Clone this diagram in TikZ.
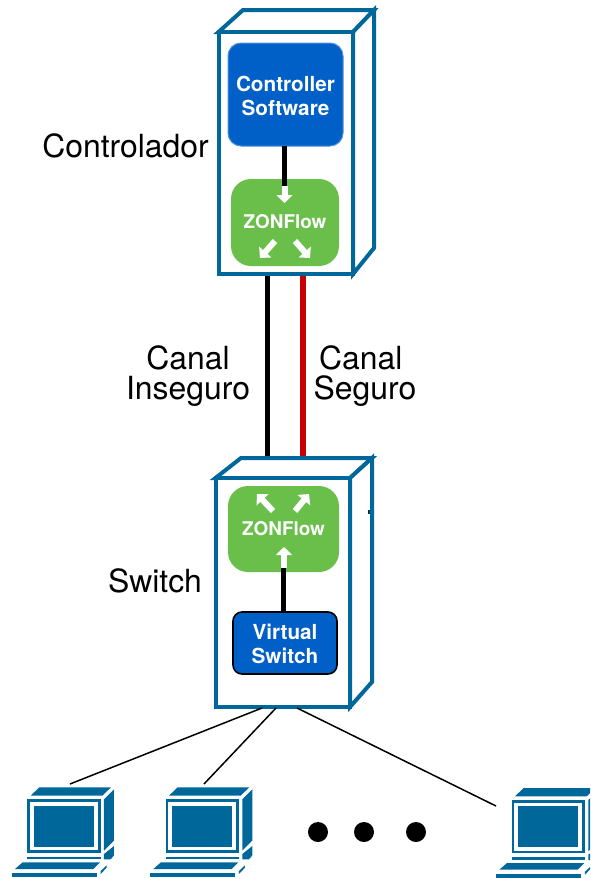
\documentclass[tikz,border=0pt]{standalone}
\usepackage{fontspec}
\setmainfont{TeX Gyre Heros}
\usetikzlibrary{arrows.meta,calc}
\definecolor{netblue}{HTML}{00679A}
\definecolor{swblue}{HTML}{0060C8}
\definecolor{zongreen}{HTML}{6ABF4B}
\definecolor{chanred}{HTML}{C40000}
\tikzset{
  x=1pt,y=-1pt,
  label text/.style={font=\fontsize{31.9}{30}\selectfont,inner sep=0pt,text=black},
  case/.style={draw=netblue,line width=4pt,line join=miter,fill=white},
  casefront/.style={draw=netblue,line width=4pt,fill=white,inner sep=0pt,outer sep=0pt,anchor=north west},
  softbox/.style={anchor=north west,inner sep=0pt,outer sep=0pt,rounded corners=13pt,text=white,align=center,font=\fontsize{20.7}{24}\selectfont\bfseries},
  zonbox/.style={anchor=north west,inner sep=0pt,outer sep=0pt,rounded corners=20pt,fill=zongreen,text=white,font=\fontsize{18.9}{22}\selectfont\bfseries},
  link/.style={line width=5pt,draw=black},
  flow/.style={draw=white,line width=6pt,-{Triangle[width=16pt,length=8pt]}},
  thin link/.style={draw=black,line width=1.5pt},
  dot/.style={circle,fill=black,minimum size=20pt,inner sep=0pt},
  computer/.pic={
    \begin{scope}[fill=netblue,draw=none]
      \fill (62,77) -- (88,52) -- (303,52) -- (277,77) -- cycle;
      \fill (52,88) rectangle (272,248);
      \fill[white] (60,96) rectangle (264,240);
      \fill (72,107) rectangle (252,230);
      \fill (282,88) -- (312,58) -- (312,212) -- (282,242) -- cycle;
      \fill (52,260) rectangle (272,268);
      \fill (282,252) -- (312,228) -- (312,256) -- (302,268) -- (282,268) -- cycle;
      \fill (15,297) -- (38,277) -- (270,277) -- (250,297) -- cycle;
      \fill (5,309) rectangle (260,322);
      \fill (272,303) -- (290,286) -- (290,293) -- (272,312) -- cycle;
    \end{scope}
  }
}
\begin{document}
\begin{tikzpicture}
\useasboundingbox (0,0) rectangle (590,879);
\clip (0,0) rectangle (590,879);

% connectors behind the cases
\coordinate (insecTop) at (267,274);
\coordinate (insecBot) at (267,458);
\coordinate (secTop) at (303,274);
\coordinate (secBot) at (303,458);
\draw[link] (insecTop) -- (insecBot);
\draw[draw=chanred,line width=5.4pt] (secTop) -- (secBot);

% controller case
\draw[case] (218.5,32) -- (243,10) -- (374,10) -- (353,32) -- cycle;
\draw[case] (353,32) -- (374,10) -- (374,248) -- (353,274) -- cycle;
\node[casefront,minimum width=134.5pt,minimum height=242pt] (ctrl) at (218.5,32) {};
\node[softbox,fill=swblue,draw=swblue!70!white,line width=1pt,minimum width=115pt,minimum height=103pt] (soft) at (228,43) {\rule{0pt}{18.5pt}Controller\\[0pt]Software};
\node[zonbox,minimum width=108pt,minimum height=87pt] (zon1) at (231,179) {\raisebox{2pt}{ZONFlow}};
\coordinate (zon1in) at (284.5,186);
\draw[link] (soft.south -| zon1in) -- (zon1in);
\coordinate (zon1tip) at (284.5,203);
\draw[flow] (zon1in) -- (zon1tip);
\coordinate (a1s) at (275,241); \coordinate (a1e) at (260,258);
\coordinate (a2s) at (295,241); \coordinate (a2e) at (310,258);
\draw[flow] (a1s) -- (a1e);
\draw[flow] (a2s) -- (a2e);

% switch case
\draw[case] (215.5,478) -- (241,458) -- (372,458) -- (350,478) -- cycle;
\draw[case] (350,478) -- (372,458) -- (372,682) -- (350,707) -- cycle;
\node[casefront,minimum width=134.5pt,minimum height=229pt] (sw) at (215.5,478) {};
\fill[netblue!60!black] (368,510) rectangle (370,514);
\node[zonbox,minimum width=111pt,minimum height=86pt] (zon2) at (228,486) {\raisebox{-1pt}{ZONFlow}};
\node[softbox,fill=swblue,draw=black,line width=1.6pt,minimum width=104pt,minimum height=62pt,rounded corners=9pt] (vs) at (233,612) {\rule{0pt}{17.5pt}Virtual\\[0pt]Switch};
\coordinate (zon2in) at (284,568);
\draw[link] (vs.north -| 283.5,0) -- (283.5,566);
\coordinate (zon2tip) at (284,547);
\draw[flow] (zon2in) -- (zon2tip);
\coordinate (b1s) at (273,511); \coordinate (b1e) at (257,494);
\coordinate (b2s) at (295,511); \coordinate (b2e) at (309,494);
\draw[flow] (b1s) -- (b1e);
\draw[flow] (b2s) -- (b2e);

% computers
\pic[scale=1/3] (pc1) at (10,770) {computer};
\pic[scale=1/3] (pc2) at (148.3,770) {computer};
\pic[scale=1/3] (pc3) at (494.3,770.7) {computer};
\coordinate (pc1top) at (70,784);
\coordinate (pc2top) at (204,784);
\coordinate (pc3top) at (496,806);
\coordinate (sw1) at (262,708);
\coordinate (sw2) at (276,708);
\coordinate (sw3) at (297,708);
\draw[thin link] (sw1) -- (pc1top);
\draw[thin link] (sw2) -- (pc2top);
\draw[thin link] (sw3) -- (pc3top);

% dots
\node[dot] (d1) at (318,832) {};
\node[dot] (d2) at (364,832) {};
\node[dot] (d3) at (416,832) {};

% labels
\node[label text] (lctrl) at (125.5,146) {Controlador};
\node[label text,align=center] (lins) at (188,376) {Canal\\Inseguro};
\node[label text,align=left,anchor=west] (lsec) at (313.5,376) {\,Canal\\Seguro};
\node[label text] (lsw) at (155,581) {Switch};
\end{tikzpicture}
\end{document}
